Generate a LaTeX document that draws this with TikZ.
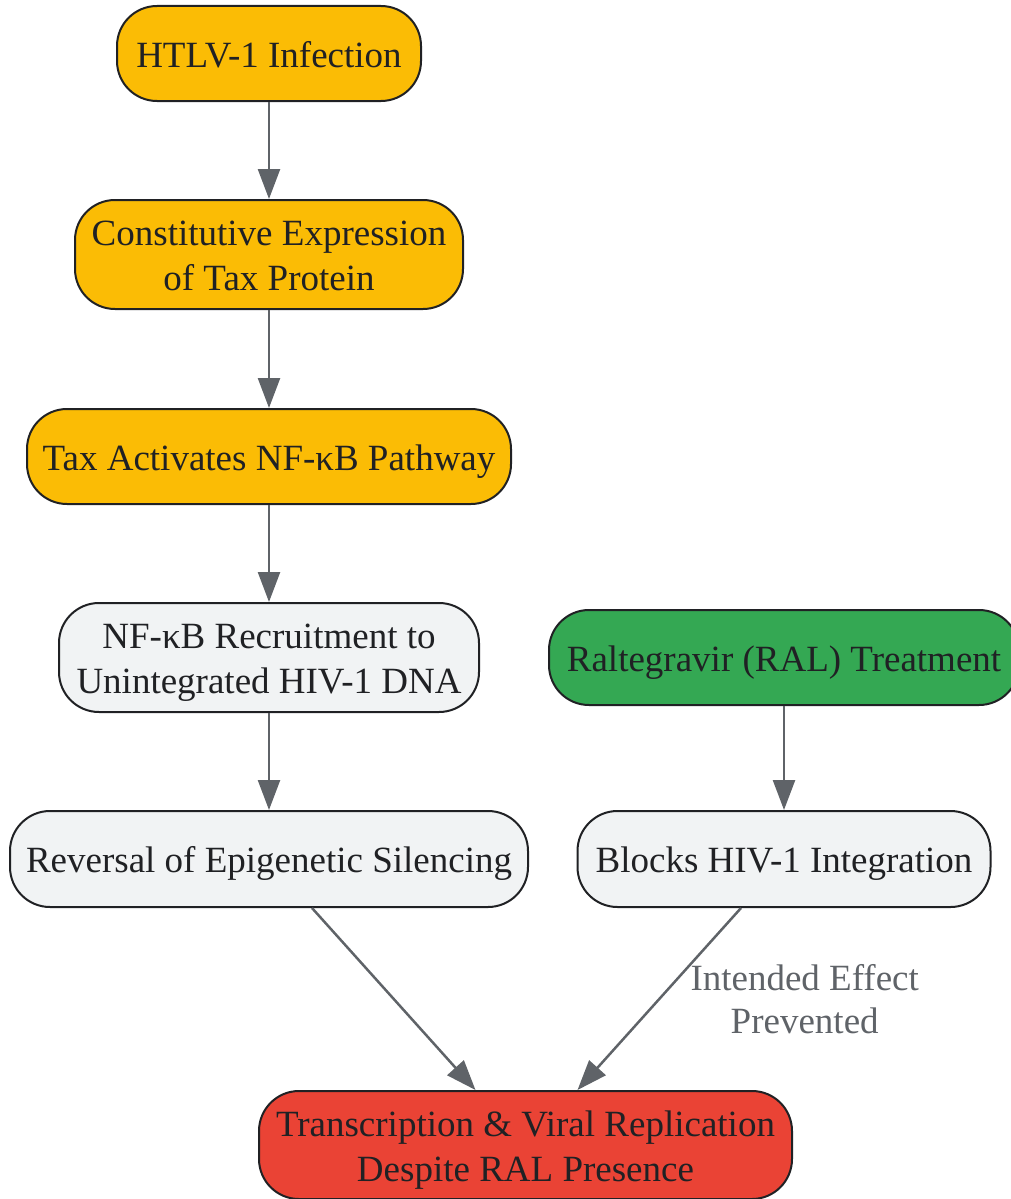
\documentclass[tikz,border=0pt]{standalone}
\usepackage{fontspec}
\setmainfont{Liberation Serif}
\usetikzlibrary{arrows.meta}
\definecolor{taxorange}{HTML}{FBBC05}
\definecolor{ralgreen}{HTML}{34A853}
\definecolor{outred}{HTML}{EA4335}
\definecolor{hostgray}{HTML}{F1F3F4}
\definecolor{boxline}{HTML}{202124}
\definecolor{linkgray}{HTML}{5F6368}
\begin{document}
\begin{tikzpicture}[x=1pt, y=-1pt,
    box/.style={draw=boxline, line width=2pt, rounded corners=40pt, align=center,
      text=boxline, font=\fontsize{37}{45}\selectfont, inner sep=0pt,
      text height=32pt, text depth=5pt},
    twoline/.style={text height=77pt},
    link/.style={draw=linkgray, line width=2.5pt, -{Triangle[length=30pt,width=22pt]}}]
  \useasboundingbox (0,0) rectangle (1011,1199);
  \clip (0,0) rectangle (1011,1199);
  % left column
  \node [box, fill=taxorange, minimum width=304pt, minimum height=95pt] (htlv) at (269,53.5) {HTLV-1 Infection};
  \node [box, twoline, fill=taxorange, minimum width=388pt, minimum height=109pt] (tax) at (269,254.5) {Constitutive Expression\\of Tax Protein};
  \node [box, fill=taxorange, minimum width=484pt, minimum height=95pt] (nfkb) at (269,456.5) {Tax Activates NF-κB Pathway};
  \node [box, twoline, fill=hostgray, minimum width=420pt, minimum height=109pt] (recruit) at (269,657.5) {NF-κB Recruitment to\\Unintegrated HIV-1 DNA};
  \node [box, fill=hostgray, minimum width=518pt, minimum height=96pt] (reversal) at (269,859) {Reversal of Epigenetic Silencing};
  % right column
  \node [box, fill=ralgreen, minimum width=470pt, minimum height=95pt] (ral) at (784,657.5) {Raltegravir (RAL) Treatment};
  \node [box, fill=hostgray, minimum width=413pt, minimum height=96pt] (block) at (784,859) {Blocks HIV-1 Integration};
  % outcome
  \node [box, twoline, fill=outred, minimum width=533pt, minimum height=108pt] (replic) at (525.5,1145) {Transcription \& Viral Replication\\Despite RAL Presence};
  \draw [link] (htlv.south) -- (tax.north);
  \draw [link] (tax.south) -- (nfkb.north);
  \draw [link] (nfkb.south) -- (recruit.north);
  \draw [link] (recruit.south) -- (reversal.north);
  \draw [link] (ral.south) -- (block.north);
  \draw [link] ([xshift=43pt]reversal.south) -- ([xshift=-50pt]replic.north);
  \draw [link] ([xshift=-43pt]block.south) -- ([xshift=52pt]replic.north)
    node [pos=0.5, anchor=west, xshift=30pt, inner sep=0pt, align=center, text=linkgray,
      font=\fontsize{37}{43}\selectfont] {Intended Effect\\Prevented};
\end{tikzpicture}
\end{document}
